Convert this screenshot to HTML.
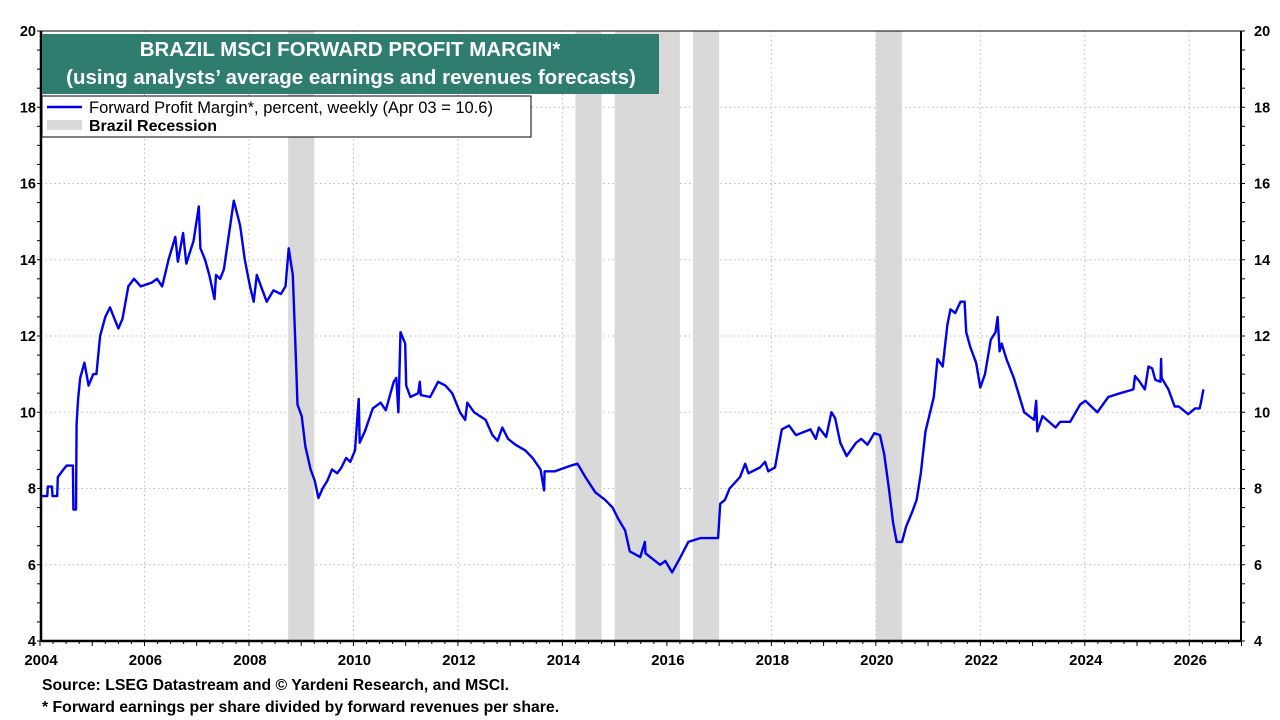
<!DOCTYPE html>
<html><head><meta charset="utf-8"><style>
body{margin:0;background:#fff;width:1280px;height:720px;overflow:hidden;font-family:"Liberation Sans",Arial,sans-serif}
svg{position:absolute;left:0;top:0}
</style></head><body>
<svg width="1280" height="720" id="chart">
<g id="grid"></g>
<g id="rec"></g>
<path id="line" fill="none" stroke="#0000ee" stroke-width="2.4" stroke-linejoin="round"/>
<g id="axes"></g>
<rect x="42" y="34" width="617" height="60" fill="#2e7d6e"/>
<text x="350" y="56" text-anchor="middle" fill="#fff" font-weight="bold" font-size="20.5">BRAZIL MSCI FORWARD PROFIT MARGIN*</text>
<text x="351" y="84" text-anchor="middle" fill="#fff" font-weight="bold" font-size="20.5">(using analysts’ average earnings and revenues forecasts)</text>
<g>
<rect x="42" y="96" width="489" height="41" fill="#fff" stroke="#000" stroke-width="1"/>
<line x1="47" y1="107" x2="82" y2="107" stroke="#0000ee" stroke-width="2.4"/>
<text x="89" y="113" font-size="16.5">Forward Profit Margin*, percent, weekly (Apr 03 = 10.6)</text>
<rect x="47" y="120" width="35" height="10" fill="#d9d9d9"/>
<text x="89" y="131" font-size="16" font-weight="bold">Brazil Recession</text>
</g>
<text x="42" y="690" font-size="15.8" font-weight="bold">Source: LSEG Datastream and © Yardeni Research, and MSCI.</text>
<text x="42" y="712" font-size="15.8" font-weight="bold">* Forward earnings per share divided by forward revenues per share.</text>
</svg>
<script>
const years=[2004,2004.14,2004.15,2004.23,2004.24,2004.33,2004.34,2004.45,2004.51,2004.63,2004.64,2004.69,2004.7,2004.73,2004.77,2004.85,2004.93,2005.02,2005.08,2005.15,2005.25,2005.34,2005.41,2005.5,2005.58,2005.69,2005.8,2005.93,
2006.14,2006.24,2006.34,2006.46,2006.59,2006.64,2006.74,2006.8,2006.94,2007.04,2007.07,2007.16,2007.24,2007.34,2007.37,2007.45,2007.52,2007.64,2007.71,2007.83,2007.92,2008.02,
2008.09,2008.15,2008.26,2008.34,2008.47,2008.61,2008.7,2008.76,2008.84,2008.89,2008.93,2009.01,2009.08,2009.18,2009.26,2009.33,2009.41,2009.5,2009.59,2009.69,2009.77,2009.86,2009.94,2010.03,
2010.1,2010.12,2010.22,2010.37,2010.52,2010.62,2010.77,2010.82,2010.86,2010.9,2010.99,2011.01,2011.09,2011.24,2011.27,2011.29,2011.47,2011.62,2011.76,2011.89,2012.04,
2012.14,2012.18,2012.31,2012.53,2012.66,2012.76,2012.85,2012.96,2013.1,2013.29,2013.43,2013.58,2013.65,2013.66,2013.86,2013.96,
2014.16,2014.29,2014.44,2014.63,2014.82,2014.96,2015.07,2015.2,2015.29,2015.49,2015.58,2015.59,2015.68,2015.87,2015.97,
2016.1,2016.26,2016.41,2016.64,2016.98,2017.02,2017.11,2017.2,2017.4,2017.5,2017.56,2017.78,2017.88,2017.94,2018.07,
2018.2,2018.34,2018.47,2018.75,2018.85,2018.91,2019.05,2019.15,2019.22,2019.32,2019.44,2019.62,2019.72,2019.84,2019.97,2020.08,
2020.16,2020.25,2020.33,2020.4,2020.5,2020.58,2020.7,2020.78,2020.86,2020.95,2021.11,2021.18,2021.28,2021.37,2021.43,2021.52,2021.62,2021.7,2021.73,2021.81,2021.92,2022.0,2022.09,
2022.2,2022.29,2022.33,2022.37,2022.41,2022.5,2022.64,2022.84,2023.03,2023.07,2023.09,2023.19,2023.44,2023.53,2023.72,2023.91,2024.01,
2024.24,2024.45,2024.68,2024.93,2024.96,2025.05,2025.15,2025.22,2025.29,2025.35,2025.45,2025.46,2025.47,2025.6,2025.72,2025.8,2025.98,2026.11,2026.2,2026.23,2026.27];
const values=[7.8,7.8,8.05,8.05,7.8,7.8,8.3,8.5,8.6,8.6,7.45,7.45,9.7,10.35,10.9,11.3,10.7,11.0,11.0,12.0,12.5,12.75,12.5,12.2,12.45,13.3,13.5,13.3,13.4,13.5,13.3,14.0,14.6,13.95,14.7,13.9,14.5,15.4,14.3,14.0,13.6,12.97,13.6,13.5,13.75,14.9,15.55,14.9,14.0,13.3,12.9,13.6,13.2,12.9,13.2,13.1,13.3,14.3,13.6,11.7,10.2,9.9,9.1,8.5,8.2,7.75,8.0,8.2,8.5,8.4,8.55,8.8,8.7,9.0,10.35,9.2,9.5,10.1,10.25,10.05,10.8,10.9,10.0,12.1,11.8,10.7,10.4,10.5,10.8,10.45,10.4,10.8,10.7,10.5,10.0,9.8,10.25,10.0,9.8,9.4,9.25,9.6,9.3,9.15,9.0,8.8,8.5,7.95,8.45,8.45,8.5,8.6,8.65,8.3,7.9,7.7,7.5,7.2,6.9,6.35,6.2,6.6,6.3,6.2,6.0,6.1,5.8,6.2,6.6,6.7,6.7,7.6,7.7,8.0,8.3,8.65,8.4,8.55,8.7,8.45,8.55,9.55,9.65,9.4,9.55,9.3,9.6,9.35,10.0,9.85,9.2,8.85,9.2,9.3,9.15,9.45,9.4,8.9,8.0,7.1,6.6,6.6,7.0,7.4,7.7,8.4,9.5,10.4,11.4,11.2,12.3,12.7,12.6,12.9,12.9,12.1,11.7,11.3,10.65,11.0,11.9,12.1,12.5,11.6,11.8,11.4,10.9,10.0,9.8,10.3,9.5,9.9,9.6,9.75,9.75,10.2,10.3,10.0,10.4,10.5,10.6,10.95,10.8,10.6,11.2,11.15,10.85,10.8,11.4,10.9,10.6,10.15,10.15,9.95,10.1,10.1,10.3,10.6];
const recStart=[2008.75,2014.25,2015.0,2016.5,2020.0];
const recEnd=[2009.25,2014.75,2016.25,2017.0,2020.5];
const yTicks=[4,6,8,10,12,14,16,18,20];
const xLabels=[2004,2006,2008,2010,2012,2014,2016,2018,2020,2022,2024,2026];
const L=41,R=1241,T=31,B=641;
const X=y=>40+(y-2004)*52.24, Y=v=>B-(v-4)*(B-T)/16;
const NS="http://www.w3.org/2000/svg";
function mk(tag,parent,attrs){const e=document.createElementNS(NS,tag);for(const k in attrs)e.setAttribute(k,attrs[k]);parent.appendChild(e);return e;}
const grid=document.getElementById('grid'),axes=document.getElementById('axes'),rec=document.getElementById('rec');
yTicks.forEach(v=>{if(v>4&&v<20){const g=mk('line',grid,{x1:L,x2:R,y1:Y(v),y2:Y(v),stroke:'#bbb','stroke-dasharray':'1.5,3'});

}
const t1=mk('text',axes,{x:L-5,y:Y(v)+5,'text-anchor':'end','font-size':14.5,'font-weight':'bold'});t1.textContent=v;


const t2=mk('text',axes,{x:R+13,y:Y(v)+5,'font-size':14.5,'font-weight':'bold'});t2.textContent=v;

});
for(let v=4;v<=20;v+=0.5){mk('line',axes,{x1:L-4,x2:L,y1:Y(v),y2:Y(v),stroke:'#000'});mk('line',axes,{x1:R,x2:R+4,y1:Y(v),y2:Y(v),stroke:'#000'});}
xLabels.forEach(yr=>{const g=mk('line',grid,{x1:X(yr),x2:X(yr),y1:T,y2:B,stroke:'#bbb','stroke-dasharray':'1.5,3'});


const t=mk('text',axes,{x:X(yr)+1,y:B+24,'text-anchor':'middle','font-size':15,'font-weight':'bold'});t.textContent=yr;

});
for(let q=2004;q<=2027;q+=0.25)mk('line',axes,{x1:X(q),x2:X(q),y1:B,y2:B+(Number.isInteger(q)?5:3),stroke:'#000'});
recStart.forEach((s,i)=>{const r=mk('rect',rec,{x:X(s),y:T,width:X(recEnd[i])-X(s),height:B-T,fill:'#d9d9d9'});

});
mk('rect',axes,{x:L,y:T,width:R-L,height:B-T,fill:'none',stroke:'#000','stroke-width':1});
mk('line',axes,{x1:L,x2:L,y1:T,y2:B,stroke:'#000','stroke-width':2.5});
mk('line',axes,{x1:L,x2:R,y1:B,y2:B,stroke:'#000','stroke-width':2.5});
mk('line',axes,{x1:R,x2:R,y1:T,y2:B,stroke:'#000','stroke-width':2});
document.getElementById('line').setAttribute('d',years.map((y,i)=>(i?'L':'M')+X(y).toFixed(1)+','+Y(values[i]).toFixed(1)).join(''));
</script>
</body></html>
